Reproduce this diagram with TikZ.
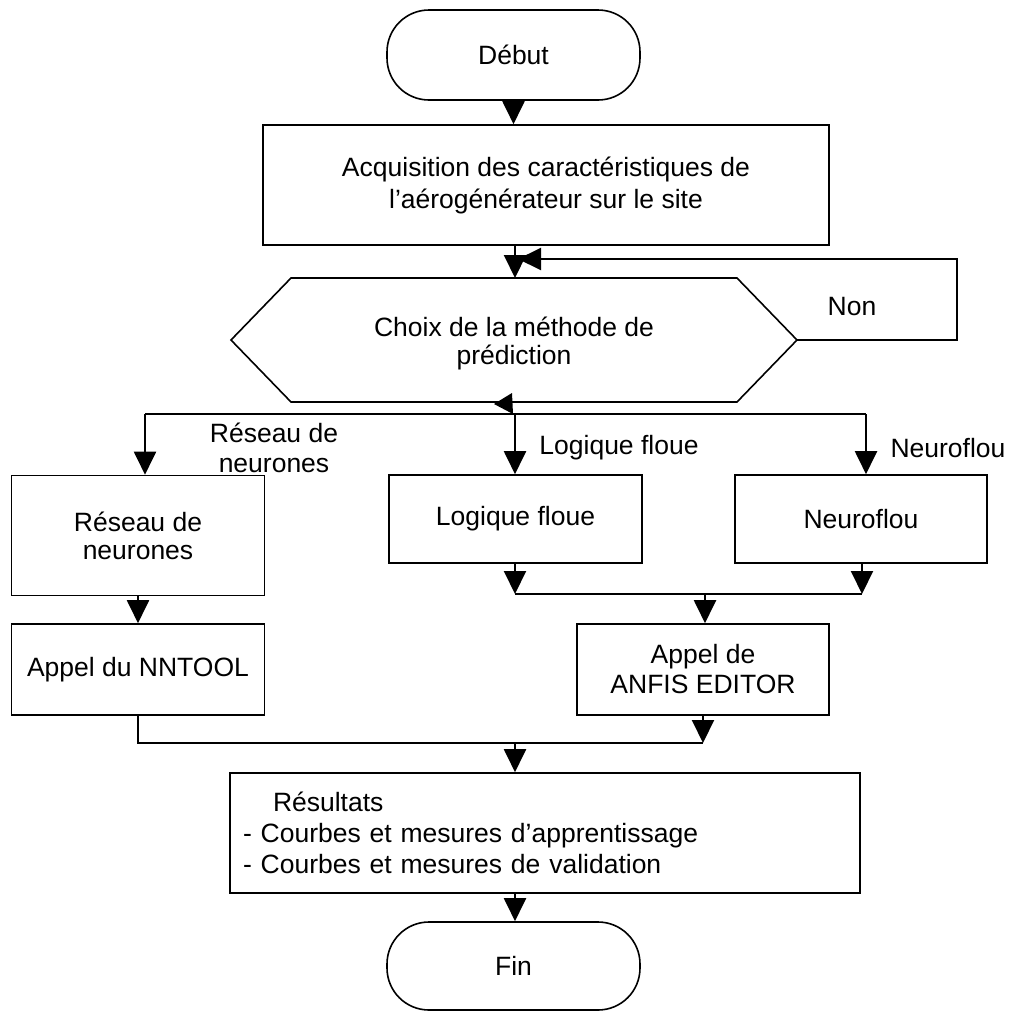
\documentclass[tikz,border=0pt]{standalone}
\usepackage{fontspec}
\setmainfont{Liberation Sans}
\usetikzlibrary{arrows.meta}
\begin{document}
\begin{tikzpicture}[x=1pt,y=-1pt,
  every node/.style={font=\fontsize{26.5}{30}\selectfont, inner sep=0pt},
  box/.style={draw, line width=1.6pt, align=center},
  term/.style={draw, line width=1.6pt, rounded corners=42pt, align=center},
  hexline/.style={line width=1.6pt, line join=miter},
  lbl/.style={align=center},
  wire/.style={line width=2pt},
  conn/.style={line width=2pt, -{Triangle[length=23pt,width=22pt]}}
]
\useasboundingbox (0,0) rectangle (1009,1012);

% terminals and boxes
\node[term, minimum width=253pt, minimum height=90pt] (debut) at (513.5,55) {Début};
\node[box, minimum width=566pt, minimum height=120pt, font=\fontsize{26.5}{32}\selectfont] (acq) at (546,185)
  {Acquisition des caractéristiques de\\l’aérogénérateur sur le site};

% hexagon
\coordinate (hL) at (231,340);
\coordinate (hTL) at (291,278);
\coordinate (hTR) at (737,278);
\coordinate (hR) at (797,340);
\coordinate (hBR) at (737,402);
\coordinate (hBL) at (291,402);
\coordinate (hT) at (515,278);
\coordinate (hB) at (515,402);
\draw[hexline] (hL) -- (hTL) -- (hTR) -- (hR) -- (hBR) -- (hBL) -- cycle;
\node[lbl, font=\fontsize{26.5}{28}\selectfont] (choix) at (514,343) {Choix de la méthode de\\prédiction};

\node[box, minimum width=253pt, minimum height=120pt, font=\fontsize{26.5}{28}\selectfont] (rn) at (138,535.5) {Réseau de\\neurones};
\node[box, minimum width=253pt, minimum height=88pt] (lf) at (515.5,519) {Logique floue};
\node[box, minimum width=252pt, minimum height=88pt] (nf) at (861,519) {Neuroflou};
\node[box, minimum width=253pt, minimum height=91pt] (nn) at (138,669.5) {Appel du NNTOOL};
\node[box, minimum width=252pt, minimum height=91pt] (anfis) at (703,669.5) {Appel de\\ANFIS EDITOR};
\node[box, minimum width=630pt, minimum height=120pt, text width=604pt, inner xsep=13pt, align=left, font=\fontsize{26.5}{31}\selectfont] (res) at (545,833)
  {\hspace*{30pt}Résultats\\- Courbes et mesures d’apprentissage\\- Courbes et mesures de validation};
\node[term, minimum width=253pt, minimum height=88pt] (fin) at (513.5,966) {Fin};

% connectors top
\draw[conn] (debut.south) -- (debut.south |- acq.north);
\draw[conn] (acq.south -| hT) -- (hT);
\coordinate (loopA) at (957,340);
\coordinate (loopB) at (957,259);
\coordinate (loopEnd) at (518,259);
\draw[conn] (hR) -- (loopA) -- (loopB) -- (loopEnd);
\node (non) at (852,307) {Non};

% branch
\coordinate (brL) at (145,414);
\coordinate (brM) at (515,414);
\coordinate (brR) at (866,414);
\fill (494,404) -- (512,393) -- (513,414) -- cycle;
\draw[wire] (brL) -- (brR);
\draw[conn] (brL) -- (brL |- rn.north);
\draw[conn] (brM) -- (brM |- lf.north);
\draw[conn] (brR) -- (brR |- nf.north);
\node[lbl] (lrn) at (274,448) {Réseau de\\neurones};
\node (llf) at (619,448) {Logique floue};
\node (lnf) at (948,448) {Neuroflou};

% merge logique/neuroflou
\coordinate (j1) at (515,594);
\coordinate (j2) at (862,594);
\coordinate (j3) at (705,594);
\draw[conn] (lf.south -| j1) -- (j1);
\draw[conn] (nf.south -| j2) -- (j2);
\draw[wire] (j1) -- (j2);
\draw[conn] (j3) -- (j3 |- anfis.north);
\draw[conn] (rn.south) -- (nn.north);

% merge to results
\coordinate (k1) at (138,743);
\coordinate (k2) at (703,743);
\coordinate (k3) at (515,743);
\draw[wire] (nn.south) -- (k1) -- (k2);
\draw[conn] (anfis.south) -- (k2);
\draw[conn] (k3) -- (k3 |- res.north);
\draw[conn] (k3 |- res.south) -- (k3 |- fin.north);
\end{tikzpicture}
\end{document}
